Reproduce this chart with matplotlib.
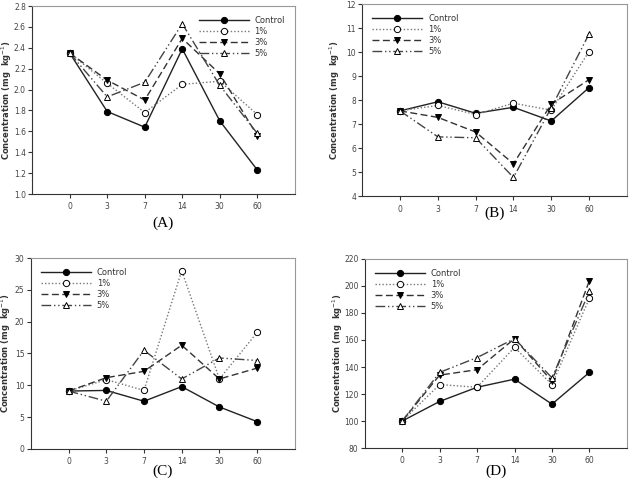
import matplotlib.pyplot as plt

days = ['0', '3', '7', '14', '30', '60']
series_names = ['Control', '1%', '3%', '5%']

# panel A
a_control = [2.35, 1.79, 1.64, 2.39, 1.70, 1.23]
a_1 = [2.35, 2.06, 1.78, 2.05, 2.08, 1.76]
a_3 = [2.35, 2.09, 1.90, 2.49, 2.15, 1.56]
a_5 = [2.35, 1.93, 2.07, 2.63, 2.04, 1.58]

# panel B
b_control = [7.55, 7.93, 7.45, 7.70, 7.13, 8.52]
b_1 = [7.55, 7.78, 7.40, 7.87, 7.58, 10.02]
b_3 = [7.55, 7.28, 6.67, 5.35, 7.83, 8.85]
b_5 = [7.55, 6.47, 6.43, 4.78, 7.68, 10.75]

# panel C
c_control = [9.1, 9.2, 7.5, 9.8, 6.6, 4.3]
c_1 = [9.1, 10.9, 9.2, 28.0, 11.0, 18.3]
c_3 = [9.1, 11.2, 12.2, 16.3, 11.0, 12.7]
c_5 = [9.1, 7.5, 15.5, 11.0, 14.3, 13.9]

# panel D
d_control = [100, 114.5, 125, 131, 112.5, 136]
d_1 = [100, 127, 125, 154.5, 127, 191]
d_3 = [100, 134, 138, 161, 129.5, 204]
d_5 = [100, 136, 147, 161, 132, 196]

styles = [
    dict(ls='-', marker='o', mfc='black', color='#222222'),
    dict(ls=(0, (1, 1.5)), marker='o', mfc='white', color='#777777'),
    dict(ls=(0, (5, 2.5)), marker='v', mfc='black', color='#333333'),
    dict(ls=(0, (7, 2, 1, 2, 1, 2)), marker='^', mfc='white', color='#444444'),
]


def draw_panel(rect, data, ylim, yticks, fmt, tag, tag_y, legend_loc, lab_x):
  ax = fig.add_axes(rect)
  x = range(len(days))
  for name, vals, st in zip(series_names, data, styles):
    ax.plot(x, vals, linestyle=st['ls'], color=st['color'], lw=1.0,
            marker=st['marker'], markersize=4.5, markerfacecolor=st['mfc'],
            markeredgecolor='black', markeredgewidth=0.7, label=name)
  ax.set_xlim(-1, 6)
  ax.set_ylim(*ylim)
  ax.set_xticks(list(x))
  ax.set_xticklabels(days)
  ax.set_yticks(yticks)
  ax.set_yticklabels([fmt.format(v) for v in yticks])
  ax.tick_params(direction='out', length=3, width=0.8, labelsize=5.5,
                 labelcolor='#444444', color='#333333')
  ax.tick_params(axis='x', pad=3)
  ax.tick_params(axis='y', pad=1.5)
  for side in ['top', 'right']:
    ax.spines[side].set_color('#999999')
  for side in ['left', 'bottom']:
    ax.spines[side].set_color('#333333')
  ax.set_ylabel('Concentration (mg  kg$^{-1}$)', fontsize=6,
                fontweight='bold', color='#333333')
  ax.yaxis.set_label_coords(lab_x, 0.5)
  ax.legend(loc=legend_loc, frameon=False, fontsize=6, handlelength=6,
            handletextpad=0.7, labelspacing=0.25, borderaxespad=0.8,
            numpoints=1, labelcolor='#333333')
  fig.text(rect[0] + rect[2] / 2, tag_y, tag, ha='center', va='center',
           fontsize=11, family='Liberation Serif')
  return ax


fig = plt.figure(figsize=(6.3, 4.82), dpi=100)

draw_panel([0.051, 0.5975, 0.417, 0.39], [a_control, a_1, a_3, a_5],
           (1.0, 2.8), [1.0, 1.2, 1.4, 1.6, 1.8, 2.0, 2.2, 2.4, 2.6, 2.8],
           '{:.1f}', '(A)', 1 - 223 / 482, 'upper right', -0.068)
draw_panel([0.575, 0.593, 0.42, 0.3987], [b_control, b_1, b_3, b_5],
           (4, 12), list(range(4, 13)), '{:d}', '(B)', 1 - 213 / 482,
           'upper left', -0.075)
draw_panel([0.049, 0.0685, 0.419, 0.3962], [c_control, c_1, c_3, c_5],
           (0, 30), list(range(0, 31, 5)), '{:d}', '(C)', 1 - 471 / 482,
           'upper left', -0.068)
draw_panel([0.579, 0.0705, 0.416, 0.3922], [d_control, d_1, d_3, d_5],
           (80, 220), list(range(80, 221, 20)), '{:d}', '(D)', 1 - 471 / 482,
           'upper left', -0.075)

fig.savefig('out.png', dpi=100)
